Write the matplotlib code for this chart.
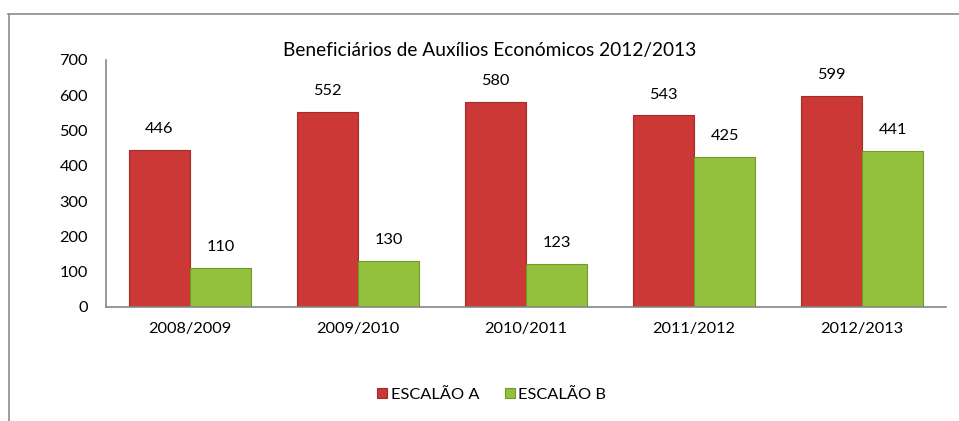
import numpy as np
import matplotlib.pyplot as plt
from matplotlib.lines import Line2D

# Data
categories = ["2008/2009", "2009/2010", "2010/2011", "2011/2012", "2012/2013"]
escalao_a = [446, 552, 580, 543, 599]
escalao_b = [110, 130, 123, 425, 441]
series_names = ["ESCALÃO A", "ESCALÃO B"]

plt.rcParams['font.family'] = ['Lato', 'DejaVu Sans']

fig = plt.figure(figsize=(9.59, 4.21), dpi=100)
ax = fig.add_axes([0.1105, 0.2708, 0.876, 0.5867])

x = np.arange(len(categories))
w = 0.365
red = '#cb3836'
green = '#93c13e'
bars_a = ax.bar(x - w / 2, escalao_a, w, color=red, edgecolor='#a52a28', linewidth=0.8, label=series_names[0])
bars_b = ax.bar(x + w / 2, escalao_b, w, color=green, edgecolor='#6f9a2a', linewidth=0.8, label=series_names[1])

for bars in (bars_a, bars_b):
    for b in bars:
        ax.annotate(f"{int(b.get_height())}", (b.get_x() + b.get_width() / 2, b.get_height()),
                    xytext=(0, 10), textcoords='offset points', ha='center', va='bottom', fontsize=11.8)

ax.set_xlim(-0.5, len(categories) - 0.5)
ax.set_ylim(0, 700)
ax.set_yticks(range(0, 701, 100))
ax.set_xticks(x)
ax.set_xticklabels(categories)
ax.tick_params(axis='both', length=0, labelsize=11.8)
ax.tick_params(axis='y', pad=13)
ax.tick_params(axis='x', pad=11)
for s in ('top', 'right'):
    ax.spines[s].set_visible(False)
for s in ('left', 'bottom'):
    ax.spines[s].set_color('#868686')
    ax.spines[s].set_linewidth(1.2)

fig.text(0.511, 0.88, "Beneficiários de Auxílios Económicos 2012/2013", ha='center', va='center', fontsize=13.8)

fig.legend(handles=[bars_a, bars_b], labels=series_names, loc='center', bbox_to_anchor=(0.513, 0.062),
           ncol=2, frameon=False, fontsize=11.8, handlelength=0.6, handleheight=0.6,
           handletextpad=0.2, columnspacing=1.6)

# outer chart frame (top and left edges visible)
fig.add_artist(Line2D([8 / 959, 1.0], [1 - 13.5 / 421, 1 - 13.5 / 421], color='#8c8c8c', lw=1.2))
fig.add_artist(Line2D([8.5 / 959, 8.5 / 959], [0, 1 - 13.5 / 421], color='#8c8c8c', lw=1.2))

fig.savefig('out.png', dpi=100)
